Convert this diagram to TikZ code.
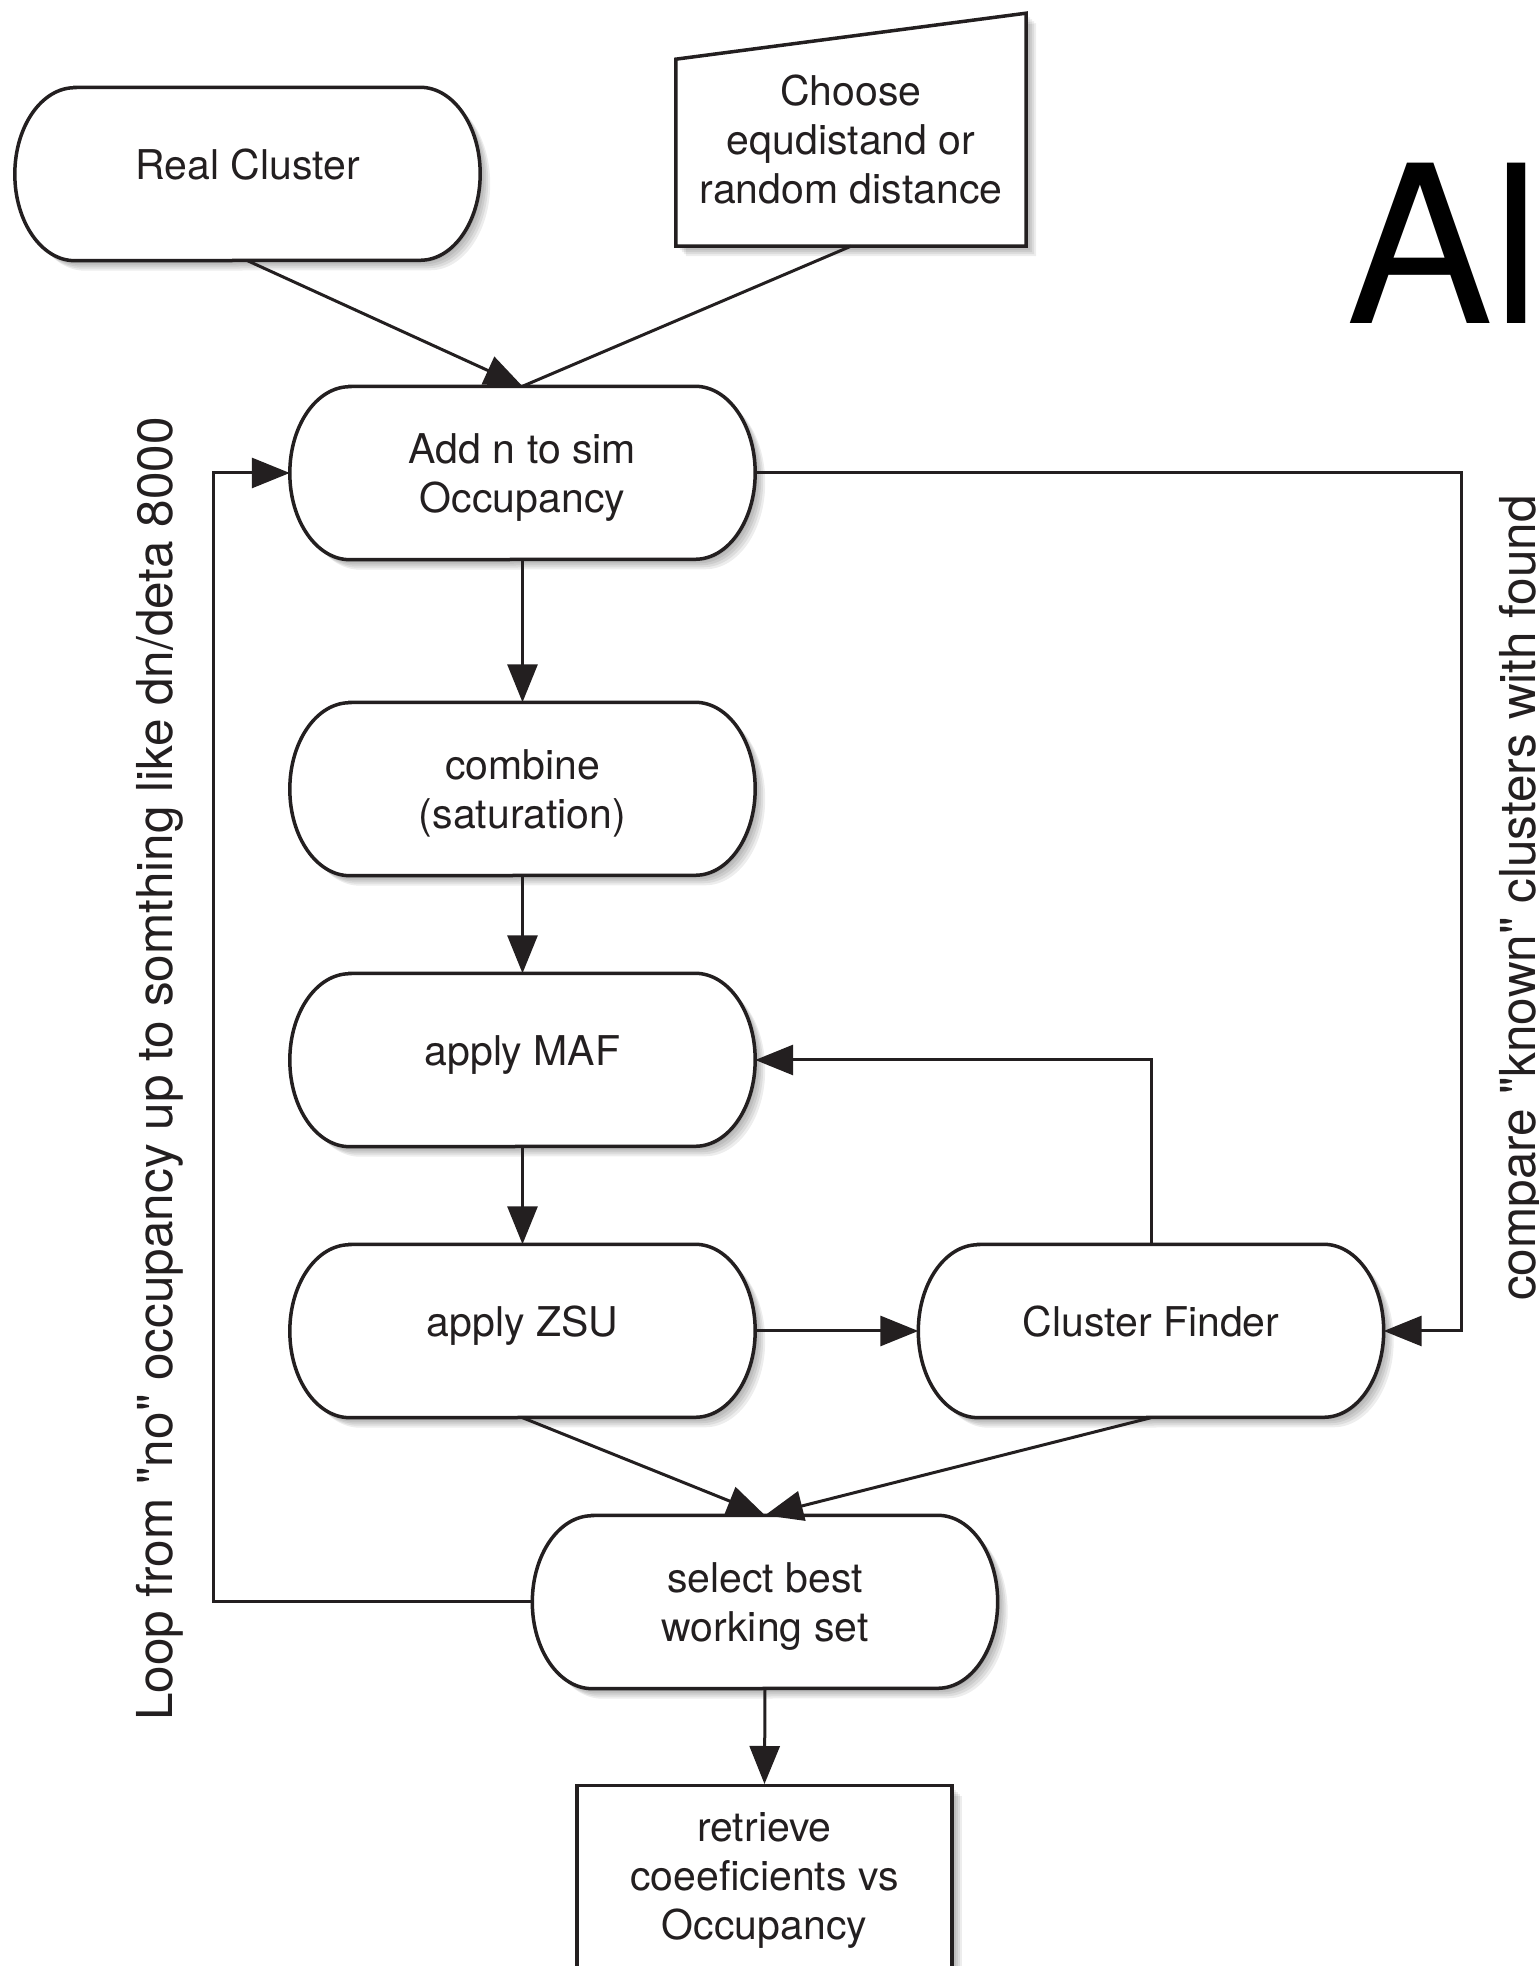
\documentclass[tikz,border=0pt]{standalone}
\usepackage{fontspec}
\setmainfont{TeX Gyre Heros}
\usetikzlibrary{arrows.meta,backgrounds}
\definecolor{ink}{HTML}{231F20}
\tikzset{
  x=1pt, y=1pt,
  shadowed/.style={
    preaction={fill=black, opacity=.07, transform canvas={shift={(10pt,-10pt)}}},
    preaction={fill=black, opacity=.07, transform canvas={shift={(8pt,-8pt)}}},
    preaction={fill=black, opacity=.07, transform canvas={shift={(6pt,-6pt)}}},
    preaction={fill=black, opacity=.07, transform canvas={shift={(4pt,-4pt)}}},
    preaction={fill=black, opacity=.07, transform canvas={shift={(2pt,-2pt)}}}},
  txt/.style={font=\fontsize{41}{49}\selectfont, text=ink, align=center, inner sep=0pt},
  box/.style={txt, rectangle, minimum width=465pt, minimum height=173pt},
  oneline/.style={box, text height=30pt, text depth=18.6pt},
  twoline/.style={box, text height=87pt},
  stad/.style={fill=white, draw=ink, line width=3.5pt, shadowed},
  conn/.style={draw=ink, line width=3pt},
  arr/.style={conn, -{Triangle[length=38pt,width=30pt]}},
  rotlab/.style={font=\fontsize{49.5}{59}\selectfont, text=ink, rotate=90, anchor=base, inner sep=0pt},
}
\begin{document}
\begin{tikzpicture}
\useasboundingbox (0,0) rectangle (1539,1966);
\clip (0,0) rectangle (1539,1966);

% nodes
\node[oneline] (real) at (247.5,1792) {Real Cluster};
\node[twoline] (add)  at (522.5,1493) {Add n to sim\\Occupancy};
\node[twoline] (comb) at (522.5,1177) {combine\\(saturation)};
\node[oneline] (maf)  at (522.5,906)  {apply MAF};
\node[oneline] (zsu)  at (522.5,635)  {apply ZSU};
\node[oneline] (cf)   at (1151,635)   {Cluster Finder};
\node[twoline] (sel)  at (765,364)    {select best\\working set};
\node[txt, minimum width=350pt, minimum height=212pt] (choose) at (851,1826)
  {Choose\\equdistand or\\random distance};
\node[txt, rectangle, minimum width=375pt, minimum height=190pt, anchor=north,
      draw=ink, line width=3.5pt, fill=white, shadowed] (ret) at (764.5,182)
  {retrieve\\coeeficients vs\\Occupancy};

\begin{scope}[on background layer]
  \foreach \n in {real,add,comb,maf,zsu,cf,sel}{
    \path[stad] ([xshift=60pt]\n.north west) -- ([xshift=-60pt]\n.north east)
      arc[start angle=90, end angle=-90, x radius=60pt, y radius=86.5pt]
      -- ([xshift=60pt]\n.south west)
      arc[start angle=270, end angle=90, x radius=60pt, y radius=86.5pt] -- cycle;
  }
  \path[stad] (choose.south west) -- (choose.south east)
    -- ([yshift=233pt]choose.south east) -- ([yshift=187pt]choose.south west) -- cycle;
\end{scope}

% connectors
\draw[arr]  (real.south) -- (add.north);
\draw[conn] (choose.south) -- (add.north);
\draw[arr]  (add.south) -- (comb.north);
\draw[arr]  (comb.south) -- (maf.north);
\draw[arr]  (maf.south) -- (zsu.north);
\draw[arr]  (zsu.east) -- (cf.west);
\draw[arr]  (cf.north) |- (maf.east);
\coordinate (rr) at (1461,1493);
\draw[arr]  (add.east) -- (rr) |- (cf.east);
\draw[arr]  (zsu.south) -- (sel.north);
\draw[arr]  (cf.south) -- (sel.north);
\coordinate (ll) at (213,364);
\draw[arr]  (sel.west) -- (ll) |- (add.west);
\draw[arr]  (sel.south) -- (ret.north);

% labels
\node[rotlab] (looplab) at (172,897) {Loop from \textquotedbl no\textquotedbl{} occupancy up to somthing like dn/deta 8000};
\node[rotlab] (cmplab) at (1535,1068) {compare \textquotedbl known\textquotedbl{} clusters with found};
\node[font=\fontsize{220}{220}\selectfont, text=black, anchor=base west, inner sep=0pt] (al) at (1346,1642) {Al};
\end{tikzpicture}
\end{document}
